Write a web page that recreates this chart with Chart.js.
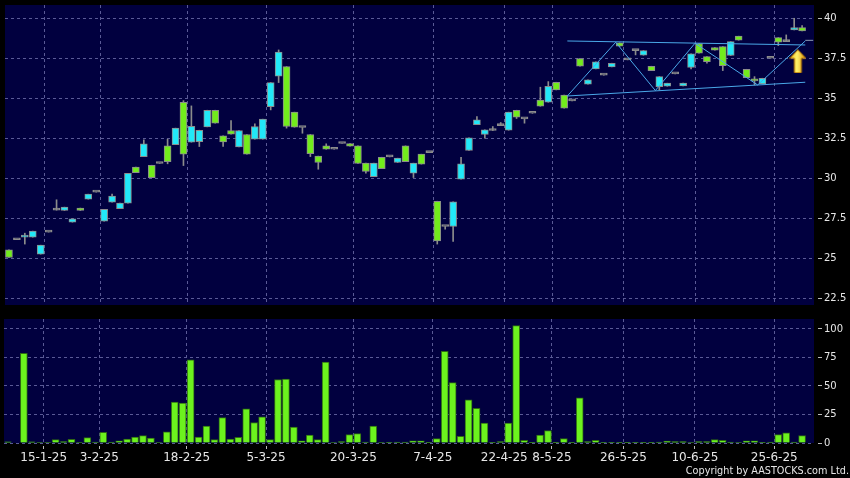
<!DOCTYPE html>
<html lang="en">
<head>
    <meta charset="UTF-8">
    <title>Daily chart</title>
    <script src="https://cdn.jsdelivr.net/npm/chart.js"></script>
    <style>
        body {
            margin: 0;
            background: #000;
            width: 850px;
            height: 478px;
            overflow: hidden;
            position: relative;
            font-family: "DejaVu Sans", sans-serif;
        }
        #price_box { position: absolute; left: 0; top: 0; }
        #vol_box { position: absolute; left: 0; top: 312px; }
        .copyright {
            position: absolute;
            right: 1px;
            top: 465px;
            line-height: 12px;
            font-size: 9.7px;
            color: #e6e6e6;
            white-space: nowrap;
        }
    </style>
</head>
<body>
    <div id="price_box"><canvas id="price" width="850" height="312"></canvas></div>
    <div id="vol_box"><canvas id="vol" width="850" height="166"></canvas></div>
    <div class="copyright">Copyright by AASTOCKS.com Ltd.</div>

    <script>
        // x axis: 101 trading days plus one empty slot on the right
        const SLOTS = 102
        const TICK_POS = [5, 12, 23, 33, 44, 54, 63, 69, 78, 87, 97]
        const TICK_TEXT = ['15-1-25', '3-2-25', '18-2-25', '5-3-25', '20-3-25', '7-4-25',
                           '22-4-25', '8-5-25', '26-5-25', '10-6-25', '25-6-25']

        const OPEN = [25.52,26.15,26.31,26.31,25.25,26.63,28.0,27.98,27.25,28.13,
            28.69,29.13,27.31,28.5,28.1,28.44,30.69,31.35,30.81,30.92,
            32.02,32.1,34.75,32.25,32.29,33.21,34.25,32.65,32.98,31.96,
            32.73,32.44,32.44,34.48,36.38,36.98,34.13,33.17,32.73,31.38,
            32.02,31.81,32.17,32.17,32.02,30.94,30.1,31.31,31.33,30.98,
            32.02,30.31,31.5,31.6,28.56,26.98,26.98,29.94,31.73,33.35,
            32.73,32.98,33.29,33.0,34.25,33.71,34.06,34.88,34.75,36.0,
            35.19,34.83,37.48,35.88,36.83,36.44,36.96,38.46,37.4,37.98,
            37.69,37.0,35.73,35.75,36.52,35.77,36.92,38.42,37.6,38.17,
            38.23,37.67,38.88,36.81,36.21,35.9,37.5,38.79,38.54,39.27,
            39.42]
        const HIGH = [25.52,26.15,26.56,26.69,25.81,26.63,28.65,28.19,27.46,28.13,
            29.0,29.13,28.06,29.0,28.44,30.31,30.69,32.4,30.81,30.92,
            32.44,33.13,34.85,34.52,33.0,34.25,34.25,32.65,33.6,32.98,
            32.73,33.4,33.69,35.98,38.02,36.98,34.13,33.17,32.73,31.38,
            32.15,31.81,32.17,32.17,32.02,30.94,30.94,31.31,31.33,31.25,
            32.02,30.94,31.5,31.6,28.56,26.98,28.52,31.31,32.52,33.85,
            33.02,33.23,33.48,34.13,34.25,33.71,34.06,35.69,36.04,36.0,
            35.19,34.83,37.48,36.15,37.27,36.44,37.19,38.46,37.4,37.98,
            37.98,37.0,36.35,35.94,36.52,35.94,37.77,38.42,37.6,38.17,
            38.23,38.54,38.88,36.81,36.35,36.25,37.5,38.79,38.96,40.0,
            39.54]
        const LOW = [25.04,26.15,25.88,26.31,25.25,26.63,28.0,27.98,27.25,27.98,
            28.69,29.13,27.31,28.5,28.1,28.44,30.35,31.35,30.04,30.92,
            30.9,32.1,30.79,32.25,31.98,33.21,33.44,31.98,32.75,31.96,
            31.5,32.44,32.44,34.27,35.98,33.13,33.19,32.81,31.35,30.56,
            31.81,31.81,32.17,32.0,30.92,30.31,30.1,30.6,31.33,30.98,
            31.04,30.04,30.88,31.6,25.88,26.81,26.04,29.94,31.73,33.35,
            32.5,32.98,33.29,33.0,33.73,33.44,34.06,34.5,34.75,35.52,
            34.38,34.83,37.0,35.88,36.83,36.44,36.96,38.25,37.4,37.71,
            37.69,36.73,35.52,35.75,36.52,35.77,36.83,37.81,37.19,38.0,
            36.73,37.67,38.63,36.29,35.83,35.9,37.5,38.29,38.54,39.27,
            39.21]
        const CLOSE = [25.04,26.15,26.44,26.69,25.81,26.63,28.0,28.19,27.46,27.98,
            29.0,29.13,28.06,28.88,28.44,30.31,30.35,32.15,30.04,30.92,
            31.04,33.13,31.5,33.25,33.0,34.25,33.44,32.27,32.75,32.98,
            31.5,33.23,33.69,35.98,37.88,33.23,33.19,33.17,31.54,30.98,
            31.81,31.81,32.17,32.0,30.92,30.42,30.94,30.6,31.33,31.25,
            31.04,30.94,30.88,31.6,26.08,26.98,28.52,30.9,32.52,33.65,
            33.02,32.98,33.29,34.13,33.81,33.71,34.06,34.5,35.75,35.52,
            34.38,34.83,37.0,36.15,37.27,36.44,37.19,38.25,37.4,37.98,
            37.98,36.73,36.35,35.94,36.52,35.94,37.77,37.81,37.29,38.0,
            37.04,38.54,38.63,36.29,36.08,36.25,37.5,38.5,38.54,39.42,
            39.21]
        const VOLUME = [1,0,78.7,1,0.5,0.5,2.9,1.2,3.2,0.5,
            4.7,0.9,9.3,0.9,2,3.5,5.2,6.4,4.4,0.5,
            9.9,35.9,35,72.9,5.2,14.9,2.9,22.2,3.5,5,
            30,18,23,2.9,55.7,56,14,2,7,2.9,
            71,0.5,1.2,7.3,8.2,0.9,14.9,0.5,0.3,0.9,
            0.9,2,2,0.3,3.8,80.5,53,5.8,37.9,30.3,
            17.5,0.6,1.2,17.5,103,2.3,0.3,7,11,0.3,
            3.8,0.3,39.7,1.2,2.3,0.3,0.3,0.3,0.3,0.3,
            0.3,0.3,0.9,1.7,1.2,1.2,0.5,1.2,1.2,2.9,
            2.3,0.9,0.5,2,2,0.3,0.9,7.3,9,0.9,
            6.4]

        // drawn trend lines (x in day index)
        const ZIGZAG_X = [70.4, 76.5, 81.5, 86.5, 94.4, 100.4]
        const ZIGZAG_Y = [35.14, 38.5, 35.48, 38.44, 35.83, 38.58]
        const UPPER_X = [70.4, 100.4]
        const UPPER_Y = [38.58, 38.33]
        const LOWER_X = [70.4, 100.4]
        const LOWER_Y = [35.14, 36.0]
        const TAIL_X = [100.4, 101.4]
        const TAIL_Y = [38.62, 38.62]
        const ARROW_X = 99.46
        const ARROW_Y = 37.31

        const PRICE_TICKS = [22.5, 25, 27.5, 30, 32.5, 35, 37.5, 40]
        const VOL_TICKS = [0, 25, 50, 75, 100]

        const NAVY = '#01003f'
        const GRID = '#5a5a96'
        const TEXT = '#e6e6e6'
        const UP = '#22e8f8'
        const DOWN = '#72ec1c'
        const EDGE = '#8c8c8c'
        const TREND = '#4aa8e8'

        const categories = Array.from({length: SLOTS}, (_, i) => {
            const k = TICK_POS.indexOf(i)
            return k < 0 ? '' : TICK_TEXT[k]
        })
        const pts = (xs, ys) => xs.map((x, i) => ({x: x, y: ys[i]}))

        const wickData = OPEN.map((_, i) => [LOW[i], HIGH[i]])
        const bodyData = OPEN.map((o, i) => [o, CLOSE[i]])
        const bodyColors = OPEN.map((o, i) => CLOSE[i] > o ? UP : CLOSE[i] < o ? DOWN : EDGE)

        const plotBg = {
            id: 'plotBg',
            beforeDraw(chart) {
                const {ctx, chartArea: a} = chart
                ctx.save()
                ctx.fillStyle = NAVY
                ctx.fillRect(a.left, a.top, a.right - a.left, a.bottom - a.top)
                ctx.restore()
            }
        }

        function makeArrow() {
            const c = document.createElement('canvas')
            c.width = 17
            c.height = 24
            const g = c.getContext('2d')
            const grad = g.createLinearGradient(0, 0, 17, 0)
            grad.addColorStop(0, '#f5c21c')
            grad.addColorStop(0.45, '#fff36a')
            grad.addColorStop(1, '#d98a00')
            g.fillStyle = grad
            g.strokeStyle = '#b87400'
            g.lineWidth = 1
            g.beginPath()
            g.moveTo(8.5, 0.5)
            g.lineTo(16.5, 9)
            g.lineTo(12, 9)
            g.lineTo(12, 23.5)
            g.lineTo(5, 23.5)
            g.lineTo(5, 9)
            g.lineTo(0.5, 9)
            g.closePath()
            g.fill()
            g.stroke()
            return c
        }

        const onTick = ctx => TICK_POS.includes(ctx.index)

        function xGrid(showTicks) {
            return {
                offset: true,
                color: ctx => onTick(ctx) ? GRID : 'transparent',
                tickColor: ctx => onTick(ctx) ? '#bbbbbb' : 'transparent',
                drawTicks: showTicks,
                tickLength: 6,
                tickBorderDash: [3, 3],
                tickBorderDashOffset: 3
            }
        }

        function yAxis(min, max, ticks) {
            return {
                position: 'right',
                min: min,
                max: max,
                afterBuildTicks: scale => { scale.ticks = ticks.map(v => ({value: v})) },
                afterFit: scale => {
                    // fixed width, and no extra room for the end labels
                    scale.width = 36
                    scale.paddingTop = 0
                    scale.paddingBottom = 0
                },
                grid: {
                    color: GRID,
                    tickColor: '#bbbbbb',
                    tickLength: 8,
                    tickBorderDash: [4, 4],
                    tickBorderDashOffset: 4
                },
                border: { display: false, dash: [3, 3] },
                ticks: {
                    color: TEXT,
                    padding: 2,
                    font: { family: 'DejaVu Sans', size: 10 },
                    callback: v => String(v)
                }
            }
        }

        // price panel
        new Chart(document.getElementById('price'), {
            type: 'bar',
            data: {
                labels: categories,
                datasets: [
                    { data: wickData, backgroundColor: EDGE, barThickness: 1, grouped: false, order: 3 },
                    { data: bodyData, backgroundColor: bodyColors, borderColor: EDGE, borderWidth: 1,
                      borderSkipped: false, barThickness: 7, minBarLength: 2, grouped: false, order: 2 },
                    { type: 'line', data: pts(UPPER_X, UPPER_Y), xAxisID: 'xl', borderColor: TREND, borderWidth: 1, pointRadius: 0, order: 1 },
                    { type: 'line', data: pts(LOWER_X, LOWER_Y), xAxisID: 'xl', borderColor: TREND, borderWidth: 1, pointRadius: 0, order: 1 },
                    { type: 'line', data: pts(ZIGZAG_X, ZIGZAG_Y), xAxisID: 'xl', borderColor: TREND, borderWidth: 1, pointRadius: 0, order: 1 },
                    { type: 'line', data: pts(TAIL_X, TAIL_Y), xAxisID: 'xl', borderColor: '#8c9ab4', borderWidth: 1, pointRadius: 0, order: 1 },
                    { type: 'line', data: [{x: ARROW_X, y: ARROW_Y}], xAxisID: 'xl', showLine: false,
                      pointStyle: makeArrow(), order: 0 }
                ]
            },
            options: {
                responsive: false,
                animation: false,
                events: [],
                layout: { padding: { left: 4, top: 5, bottom: 7, right: 0 } },
                plugins: { legend: { display: false }, tooltip: { enabled: false } },
                scales: {
                    x: {
                        type: 'category',
                        offset: true,
                        afterFit: scale => { scale.height = 0 },
                        grid: xGrid(false),
                        border: { display: false, dash: [3, 3] },
                        ticks: { display: false, autoSkip: false, maxRotation: 0, minRotation: 0 }
                    },
                    // same span as the category axis, for lines placed between days
                    xl: {
                        type: 'linear',
                        display: false,
                        offset: false,
                        grid: { offset: false },
                        bounds: 'data',
                        min: -0.5,
                        max: SLOTS - 0.5
                    },
                    y: yAxis(22.07, 40.83, PRICE_TICKS)
                }
            },
            plugins: [plotBg]
        })

        // volume panel
        new Chart(document.getElementById('vol'), {
            type: 'bar',
            data: {
                labels: categories,
                datasets: [{
                    data: VOLUME,
                    backgroundColor: '#6cf21e',
                    borderColor: '#2f6a14',
                    borderWidth: 1,
                    borderSkipped: 'start',
                    barThickness: 7
                }]
            },
            options: {
                responsive: false,
                animation: false,
                events: [],
                layout: { padding: { left: 4, top: 7, bottom: 0, right: 0 } },
                plugins: { legend: { display: false }, tooltip: { enabled: false } },
                scales: {
                    x: {
                        type: 'category',
                        offset: true,
                        afterFit: scale => { scale.height = 35 },
                        grid: xGrid(true),
                        border: { display: false, dash: [3, 3] },
                        ticks: {
                            autoSkip: false,
                            maxRotation: 0,
                            minRotation: 0,
                            labelOffset: -4,
                            padding: 2,
                            color: TEXT,
                            font: { family: 'DejaVu Sans', size: 12 }
                        }
                    },
                    y: yAxis(0, 108.75, VOL_TICKS)
                }
            },
            plugins: [plotBg]
        })
    </script>
</body>
</html>
